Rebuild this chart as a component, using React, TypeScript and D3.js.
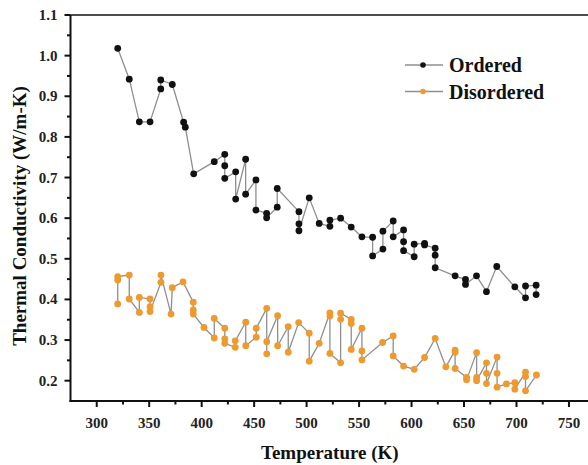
import React from "react";
import * as d3 from "d3";

const orderedT = [320, 331, 340.6, 350.8, 361, 361, 372, 382.8, 384.4, 392.4, 412, 422, 422, 422, 432.4, 432.4, 441.9, 441.9, 451.7, 451.7, 461.9, 461.9, 472, 472, 492.7, 492.7, 492.7, 502.5, 512, 522.2, 522.2, 532.4, 542.5, 552.7, 562.9, 562.9, 572.7, 572.7, 582.5, 582.5, 592.4, 592.4, 592.4, 602.5, 602.5, 612.4, 612.4, 622.5, 622.5, 622.5, 641.5, 651.4, 651.4, 661.9, 671.4, 681.2, 698.4, 708.6, 708.6, 718.7, 718.7];
const orderedK = [1.018, 0.942, 0.837, 0.837, 0.918, 0.94, 0.929, 0.836, 0.824, 0.709, 0.739, 0.757, 0.729, 0.698, 0.714, 0.647, 0.745, 0.659, 0.694, 0.62, 0.612, 0.601, 0.627, 0.673, 0.616, 0.586, 0.569, 0.65, 0.587, 0.58, 0.595, 0.6, 0.578, 0.554, 0.553, 0.507, 0.524, 0.568, 0.593, 0.554, 0.571, 0.542, 0.52, 0.505, 0.536, 0.538, 0.534, 0.526, 0.509, 0.478, 0.458, 0.449, 0.437, 0.458, 0.419, 0.481, 0.431, 0.404, 0.433, 0.435, 0.412];

const disorderedT = [320, 320, 320, 331, 331, 340.6, 340.6, 350.8, 350.8, 350.8, 361.2, 361.2, 370.8, 372, 382.2, 392, 392, 392, 402.2, 412, 412, 422, 422, 422, 432, 432, 442, 442, 452, 452, 462, 462, 462, 472.4, 472.4, 482.5, 482.5, 492.4, 502.5, 502.5, 512, 522.2, 522.2, 522.2, 532.4, 532.4, 532.4, 542.5, 542.5, 542.5, 552.7, 552.7, 552.7, 572.4, 582.5, 582.5, 592.4, 602.5, 612.4, 622.5, 632.7, 641.5, 641.5, 641.5, 652.4, 652.4, 662, 662, 662, 671.4, 671.4, 671.4, 681.5, 681.5, 681.5, 690.4, 698.4, 698.4, 708.6, 708.6, 708.6, 719];
const disorderedK = [0.389, 0.448, 0.456, 0.46, 0.401, 0.368, 0.405, 0.401, 0.382, 0.37, 0.442, 0.46, 0.364, 0.429, 0.443, 0.393, 0.374, 0.364, 0.331, 0.305, 0.353, 0.329, 0.303, 0.292, 0.282, 0.298, 0.344, 0.286, 0.307, 0.329, 0.378, 0.266, 0.296, 0.36, 0.286, 0.333, 0.27, 0.343, 0.317, 0.248, 0.292, 0.367, 0.359, 0.267, 0.244, 0.351, 0.366, 0.351, 0.341, 0.277, 0.329, 0.273, 0.251, 0.294, 0.31, 0.261, 0.236, 0.228, 0.257, 0.304, 0.234, 0.275, 0.27, 0.23, 0.208, 0.202, 0.269, 0.208, 0.2, 0.244, 0.218, 0.193, 0.258, 0.218, 0.184, 0.192, 0.195, 0.179, 0.221, 0.21, 0.175, 0.214];

const xMajor = [300, 350, 400, 450, 500, 550, 600, 650, 700, 750];
const xMinor = [325, 375, 425, 475, 525, 575, 625, 675, 725, 775];
const yMajor = [0.2, 0.3, 0.4, 0.5, 0.6, 0.7, 0.8, 0.9, 1.0, 1.1];
const yMinor = [0.25, 0.35, 0.45, 0.55, 0.65, 0.75, 0.85, 0.95, 1.05];

const seriesNames = ["Ordered", "Disordered"];
const seriesColors = ["#111111", "#EE9A2E"];

const FONT = "'Liberation Serif', 'Times New Roman', serif";

export default function App() {
  const x = d3.scaleLinear().domain([275, 775]).range([70.5, 595.2]);
  const y = d3.scaleLinear().domain([0.15, 1.1]).range([401, 15]);
  const line = d3
    .line<[number, number]>()
    .x((d) => x(d[0]))
    .y((d) => y(d[1]));

  const series = [
    orderedT.map((t, i) => [t, orderedK[i]] as [number, number]),
    disorderedT.map((t, i) => [t, disorderedK[i]] as [number, number]),
  ];

  const x0 = x(275);
  const y0 = y(0.15);

  return (
    <svg
      width={588}
      height={465}
      style={{ position: "absolute", left: 0, top: 0, background: "#fff" }}
      fontFamily={FONT}
    >
      <rect x={0} y={0} width={588} height={465} fill="#fff" />
      {series.map((s, si) => (
        <g key={si}>
          <path d={line(s) || ""} fill="none" stroke="#8f8f8f" strokeWidth={1.3} />
          {s.map((d, i) => (
            <circle key={i} cx={x(d[0])} cy={y(d[1])} r={3.4} fill={seriesColors[si]} />
          ))}
        </g>
      ))}
      <line x1={x0} x2={600} y1={y(1.1)} y2={y(1.1)} stroke="#111" strokeWidth={1.6} />
      <line x1={x0} x2={x0} y1={y(1.1)} y2={y0 + 1} stroke="#111" strokeWidth={2} />
      <line x1={x0 - 1} x2={600} y1={y0} y2={y0} stroke="#111" strokeWidth={2} />
      {xMajor.map((t) => (
        <g key={"xm" + t}>
          <line x1={x(t)} x2={x(t)} y1={y0} y2={y0 + 6} stroke="#111" strokeWidth={2} />
          <text x={x(t)} y={y0 + 27} textAnchor="middle" fontSize={15} fontWeight="bold" fill="#222">
            {t}
          </text>
        </g>
      ))}
      {xMinor.map((t) => (
        <line key={"xn" + t} x1={x(t)} x2={x(t)} y1={y0} y2={y0 + 3.5} stroke="#111" strokeWidth={2} />
      ))}
      {yMajor.map((v) => (
        <g key={"ym" + v}>
          <line x1={x0 - 6} x2={x0} y1={y(v)} y2={y(v)} stroke="#111" strokeWidth={2} />
          <text x={x0 - 13} y={y(v) + 5} textAnchor="end" fontSize={15} fontWeight="bold" fill="#222">
            {v.toFixed(1)}
          </text>
        </g>
      ))}
      {yMinor.map((v) => (
        <line key={"yn" + v} x1={x0 - 3.5} x2={x0} y1={y(v)} y2={y(v)} stroke="#111" strokeWidth={2} />
      ))}
      <text x={x(525) - 3} y={459} textAnchor="middle" fontSize={19} fontWeight="bold" fill="#111">
        Temperature (K)
      </text>
      <text
        transform={`translate(26, 216) rotate(-90)`}
        textAnchor="middle"
        fontSize={19}
        fontWeight="bold"
        fill="#111"
      >
        Thermal Conductivity (W/m-K)
      </text>
      {seriesNames.map((n, i) => (
        <g key={n} transform={`translate(0, ${65 + i * 26.5})`}>
          <line x1={405} x2={443} y1={0} y2={0} stroke="#8f8f8f" strokeWidth={1.3} />
          <circle cx={423} cy={0} r={2.8} fill={seriesColors[i]} />
          <text x={449} y={7} fontSize={20} fontWeight="bold" fill="#111">
            {n}
          </text>
        </g>
      ))}
    </svg>
  );
}
